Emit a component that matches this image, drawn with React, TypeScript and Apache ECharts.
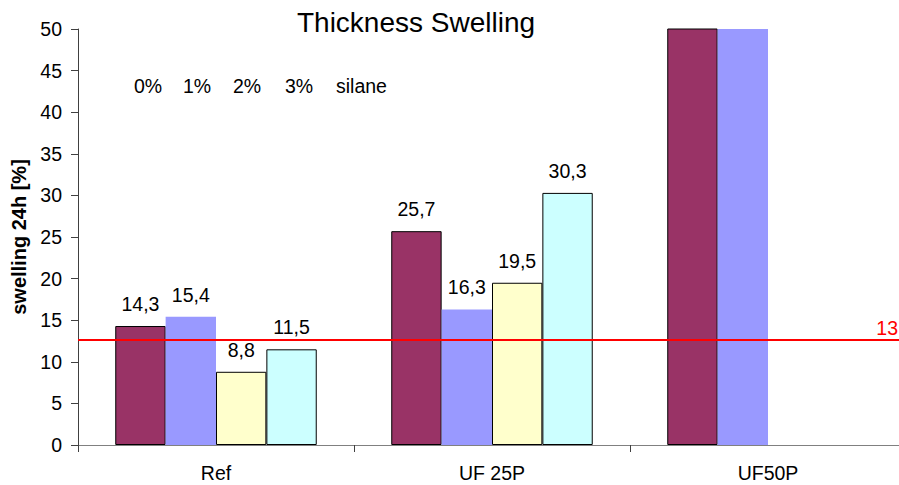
import React, { useEffect, useRef } from "react";
import * as echarts from "echarts";

const categories = ["Ref", "UF 25P", "UF50P"];
const silane0 = [14.3, 25.7, 60];
const silane1 = [15.4, 16.3, 60];
const silane2: (number | null)[] = [8.8, 19.5, null];
const silane3: (number | null)[] = [11.5, 30.3, null];
const limitValue = 12.65;
const limitLabel = "13";
const legendTexts = ["0%", "1%", "2%", "3%", "silane"];
const legendX = [134, 183, 233, 285, 336];

const FONT = "Liberation Sans, Arial, sans-serif";
const FS = 19.5;

export default function App() {
  const ref = useRef<HTMLDivElement>(null);
  useEffect(() => {
    if (!ref.current) return;
    const chart = echarts.init(ref.current, null, { renderer: "svg" });
    const labelCfg = {
      show: true,
      position: "top" as const,
      distance: 12,
      fontSize: FS,
      fontFamily: FONT,
      color: "#000",
      formatter: (p: any) => (p.value > 50 ? "" : String(p.value).replace(".", ",")),
    };
    const mk = (name: string, data: any[], color: string, border: boolean) => ({
      name,
      type: "bar",
      data,
      barGap: "0%",
      barCategoryGap: "27%",
      clip: true,
      itemStyle: {
        color,
        borderColor: border ? "#000" : color,
        borderWidth: border ? 1 : 0,
      },
      label: labelCfg,
    });
    const s0: any = mk("0%", silane0, "#993366", true);
    s0.markLine = {
      silent: true,
      symbol: "none",
      data: [{ yAxis: limitValue }],
      lineStyle: { color: "#FF0000", width: 2, type: "solid" },
      label: {
        show: true,
        position: "insideEndTop",
        formatter: limitLabel,
        color: "#FF0000",
        fontSize: FS,
        fontFamily: FONT,
        distance: [8, 2],
      },
    };
    chart.setOption({
      animation: false,
      textStyle: { fontFamily: FONT },
      grid: {
        left: 78,
        width: 828,
        top: 29,
        height: 416,
        containLabel: false,
        outerBoundsMode: "none",
      },
      xAxis: {
        type: "category",
        data: categories,
        axisLine: { lineStyle: { color: "#808080", width: 1 } },
        axisTick: { show: true, length: 7, lineStyle: { color: "#404040" } },
        axisLabel: { fontSize: FS, color: "#000", margin: 18, fontFamily: FONT },
      },
      yAxis: {
        type: "value",
        min: 0,
        max: 50,
        interval: 5,
        name: "swelling 24h [%]",
        nameLocation: "middle",
        nameGap: 48,
        nameTextStyle: { fontSize: 20, fontWeight: "bold", color: "#000", fontFamily: FONT },
        axisLine: { show: true, lineStyle: { color: "#404040", width: 1 } },
        axisTick: { show: true, length: 7, lineStyle: { color: "#404040" } },
        axisLabel: { fontSize: FS, color: "#000", margin: 16, fontFamily: FONT },
        splitLine: { show: false },
      },
      graphic: [
        {
          type: "text",
          x: 416,
          y: 22,
          style: {
            text: "Thickness Swelling",
            fontSize: 28,
            fill: "#000",
            fontFamily: FONT,
            align: "center",
            verticalAlign: "middle",
          },
        },
        ...legendTexts.map((t, i) => ({
          type: "text",
          x: legendX[i],
          y: 86,
          style: {
            text: t,
            fontSize: FS,
            fill: "#000",
            fontFamily: FONT,
            align: "left",
            verticalAlign: "middle",
          },
        })),
      ],
      series: [
        s0,
        mk("1%", silane1, "#9999FF", false),
        mk("2%", silane2, "#FFFFCC", true),
        mk("3%", silane3, "#CCFFFF", true),
      ],
    });
    return () => chart.dispose();
  }, []);
  return (
    <div
      ref={ref}
      style={{ position: "fixed", left: 0, top: 0, width: 899, height: 485, background: "#fff" }}
    />
  );
}
